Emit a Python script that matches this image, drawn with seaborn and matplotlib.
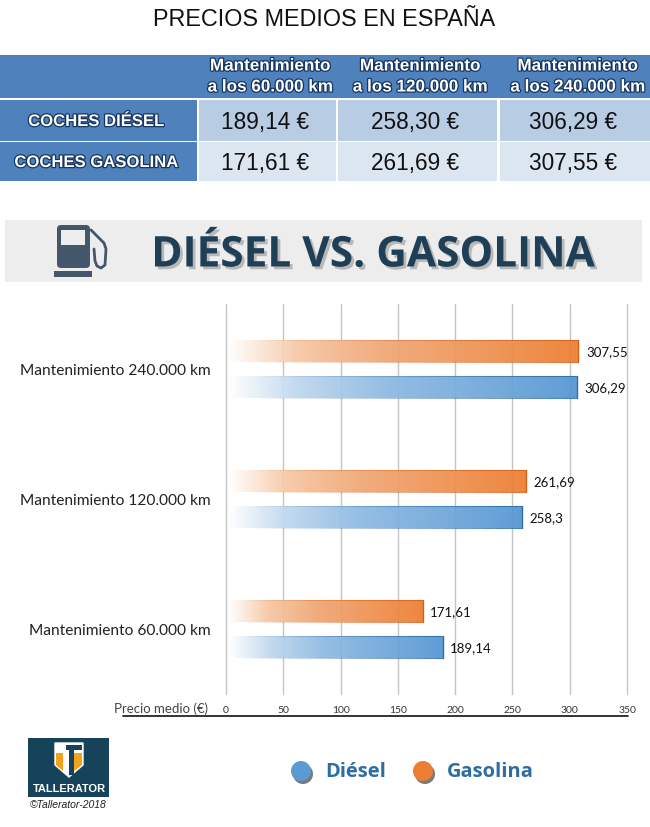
import matplotlib
matplotlib.use('Agg')
import matplotlib.pyplot as plt
import matplotlib.patheffects as pe
from matplotlib.colors import LinearSegmentedColormap
from matplotlib.patches import Rectangle, Circle, FancyBboxPatch, Polygon
import numpy as np
import pandas as pd
import seaborn as sns

sns.set_theme(style='white')
plt.rcParams['font.family'] = ['Lato', 'DejaVu Sans']

# Datos
data = pd.DataFrame({
    'km': ['240.000', '120.000', '60.000'] * 2,
    'tipo': ['Gasolina'] * 3 + ['Diésel'] * 3,
    'precio': [307.55, 261.69, 171.61, 306.29, 258.3, 189.14],
})
data['label'] = 'Mantenimiento ' + data['km'] + ' km'

W, H = 650, 828
fig = plt.figure(figsize=(6.5, 8.28), dpi=100, facecolor='white')

# Grafico de barras
ax = fig.add_axes([226 / W, 1 - 695 / H, 401 / W, 390 / H])
sns.barplot(data=data, y='label', x='precio', hue='tipo', hue_order=['Gasolina', 'Diésel'],
            palette={'Gasolina': '#ED7D31', 'Diésel': '#5B9BD5'},
            width=0.545, gap=0.37, legend=False, ax=ax)
ax.set_xlim(0, 350)
ax.set_ylim(2.5, -0.5)
ax.set_xticks(range(0, 351, 50))
ax.set_xlabel('')
ax.set_ylabel('')
ax.grid(axis='x', color='#C4C4C4', lw=1)
ax.set_axisbelow(True)
for l in ax.get_xgridlines():
    l.set_clip_on(False)
sns.despine(ax=ax, left=True, bottom=True)
ax.tick_params(axis='x', labelsize=7.5, colors='#333333', length=0, pad=8)
ax.tick_params(axis='y', labelsize=11.2, colors='#222222', length=0, pad=11)

# Degradado de las barras
cmaps = {
    'Gasolina': LinearSegmentedColormap.from_list('g', [(0, '#FFFFFF'), (0.2, '#F7C6A3'), (0.45, '#F0A673'), (1, '#ED7D31')]),
    'Diésel': LinearSegmentedColormap.from_list('d', [(0, '#FFFFFF'), (0.2, '#BDD6EE'), (0.45, '#8DB9E2'), (1, '#5496D2')]),
}
edges = {'Gasolina': '#D2621A', 'Diésel': '#2F6DA8'}
grad = np.linspace(0, 1, 256).reshape(1, -1)
for cont, tipo in zip(ax.containers, ['Gasolina', 'Diésel']):
    valores = data[data['tipo'] == tipo]['precio'].tolist()
    for bar in cont:
        x0, y0, w, h = bar.get_x(), bar.get_y(), bar.get_width(), bar.get_height()
        im = ax.imshow(grad, extent=[x0 + 3, x0 + w, y0 + h, y0], cmap=cmaps[tipo], aspect='auto',
                       alpha=0.93, zorder=3)
        im.set_clip_path(bar)
        bar.set_facecolor('none')
        bar.set_edgecolor('none')
        ax.plot([x0 + w, x0 + w], [y0, y0 + h], color=edges[tipo], lw=1, zorder=4)
        # borde que se desvanece hacia la izquierda
        xs = np.linspace(x0 + w * 0.1, x0 + w, 21)
        for i in range(20):
            for yy in (y0, y0 + h):
                ax.plot(xs[i:i + 2], [yy, yy], color=edges[tipo], lw=0.8, alpha=0.85 * (i + 1) / 20,
                        solid_capstyle='butt', zorder=4)
    ax.bar_label(cont, labels=[str(v).replace('.', ',') for v in valores], padding=5.5,
                 fontsize=9.5, color='#111111', zorder=5)
ax.set_xlim(0, 350)
ax.set_ylim(2.5, -0.5)

# Capa en pixeles para tabla, cabecera y pie
bg = fig.add_axes([0, 0, 1, 1], zorder=-1)
top = fig.add_axes([0, 0, 1, 1], zorder=5)
top.patch.set_alpha(0)
for a in (bg, top):
    a.set_xlim(0, W)
    a.set_ylim(H, 0)
    a.axis('off')

top.text(324, 20, 'PRECIOS MEDIOS EN ESPAÑA', ha='center', va='center', fontsize=16.8,
         family='Liberation Sans', color='#111111')

# Tabla
blue = '#4F81BD'
sombra = [pe.withStroke(linewidth=1.8, foreground='#17365D')]
bg.add_patch(Rectangle((0, 56), W, 43, fc=blue, lw=0))
bg.add_patch(Rectangle((0, 101), 197, 41, fc=blue, lw=0))
bg.add_patch(Rectangle((0, 143), 197, 39, fc=blue, lw=0))
cols = [(199, 336, '60.000'), (338, 497, '120.000'), (500, 650, '240.000')]
filas = [(101, 142, '#B8CCE4', 'Diésel', 'COCHES DIÉSEL'), (143, 182, '#DCE6F1', 'Gasolina', 'COCHES GASOLINA')]
for x0, x1, km in cols:
    cx = (x0 + x1) / 2
    top.text(cx + 3, 67, 'Mantenimiento', ha='center', va='center', fontsize=12.3, weight='bold',
             family='Liberation Sans', color='white', path_effects=sombra)
    top.text(cx + 3, 88, f'a los {km} km', ha='center', va='center', fontsize=12.3, weight='bold',
             family='Liberation Sans', color='white', path_effects=sombra)
    for y0, y1, color, tipo, _ in filas:
        bg.add_patch(Rectangle((x0, y0), x1 - x0, y1 - y0, fc=color, lw=0))
        v = data[(data['km'] == km) & (data['tipo'] == tipo)]['precio'].iloc[0]
        top.text(cx - 2, (y0 + y1) / 2 + 1, f'{v:.2f} €'.replace('.', ','), ha='center', va='center',
                 fontsize=16.3, family='Liberation Sans', color='#111111')
for y0, y1, color, tipo, nombre in filas:
    top.text(96, (y0 + y1) / 2 + 1, nombre, ha='center', va='center', fontsize=12, weight='bold',
             family='Liberation Sans', color='white', path_effects=sombra)

# Banda DIESEL VS. GASOLINA
bg.add_patch(Rectangle((5, 221), 637, 62, fc='#EDEDED', lw=0))
top.text(373, 257, 'DIÉSEL VS. GASOLINA', ha='center', va='center', fontsize=30.5, weight='bold',
         family='Open Sans', color='#1F3F56',
         path_effects=[pe.withSimplePatchShadow(offset=(2, -2), shadow_rgbFace='#555555', alpha=0.35)])

# Surtidor
gris = '#44566A'
top.add_patch(FancyBboxPatch((57, 226), 33, 43, boxstyle='round,pad=0,rounding_size=4', fc=gris, lw=0))
top.add_patch(Rectangle((61, 231), 24, 15, fc='#EDEDED', lw=0))
top.add_patch(Rectangle((54, 272), 38, 6, fc=gris, lw=0))
top.plot([91, 104, 106, 105, 101, 97, 95, 94], [231, 244, 250, 266, 269, 267, 262, 250],
         color=gris, lw=2, solid_capstyle='round')

# Eje inferior
top.plot([123, 628], [717, 717], color='#111111', lw=1.2)
top.text(161.5, 709, 'Precio medio (€)', ha='center', va='center', fontsize=9.5, color='#444444')

# Logo
top.add_patch(Rectangle((28, 739), 81, 59, fc='#16435A', lw=0))
top.add_patch(Polygon([(55, 744), (83, 744), (83, 766), (69, 778), (55, 766)], closed=True, fc='white', ec='white'))
top.add_patch(Polygon([(56, 754), (63, 754), (63, 772), (56, 766)], closed=True, fc='#F2A31B', lw=0))
top.add_patch(Polygon([(74, 754), (82, 754), (82, 766), (74, 772)], closed=True, fc='#F2A31B', lw=0))
top.add_patch(Rectangle((66, 746), 16, 5, fc='#16435A', lw=0))
top.add_patch(Rectangle((69, 746), 5, 30, fc='#16435A', lw=0))
top.text(69, 789, 'TALLERATOR', ha='center', va='center', fontsize=8, weight='bold',
         family='Liberation Sans', color='white')
top.text(68, 805, '©Tallerator-2018', ha='center', va='center', fontsize=7.5, style='italic',
         family='Liberation Sans', color='#222222')

# Leyenda
for cx, color, nombre, tx in [(301, '#5B9BD5', 'Diésel', 325), (423, '#ED7D31', 'Gasolina', 447)]:
    top.add_patch(Circle((cx + 2, 775), 10, fc='#222222', alpha=0.6, lw=0))
    top.add_patch(Circle((cx, 772), 10, fc=color, lw=0))
    top.text(tx, 772, nombre, ha='left', va='center', fontsize=14.5, weight='bold',
             family='Open Sans', color='#2E6DA4')

fig.savefig('out.png', dpi=100)
